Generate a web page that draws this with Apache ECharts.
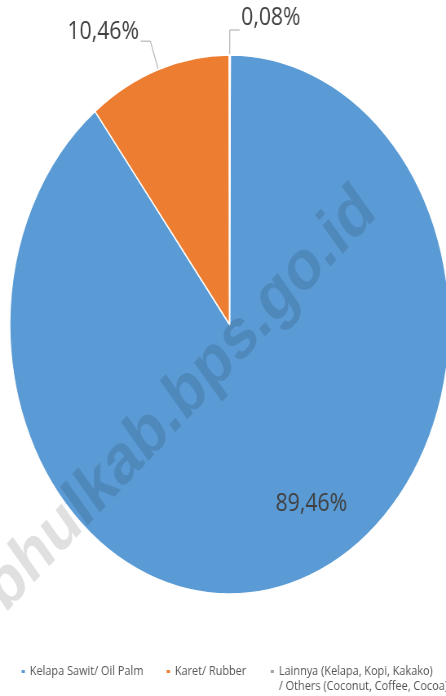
<!DOCTYPE html>
<html><head><meta charset="utf-8">
<script src="https://cdn.jsdelivr.net/npm/echarts/dist/echarts.min.js"></script>
<style>
html,body{margin:0;padding:0;overflow:hidden;background:#fff;width:446px;height:696px}
#wrap{width:446px;height:696px;overflow:hidden;position:relative}
#main{width:547px;height:696px;transform:scaleX(0.8154);transform-origin:0 0;position:absolute;left:0;top:0}
</style></head>
<body><div id="wrap"><div id="main"></div></div>
<script>
// Data
const categories = ['Kelapa Sawit/ Oil Palm', 'Karet/ Rubber', 'Lainnya (Kelapa, Kopi, Kakako) / Others (Coconut, Coffee, Cocoa)'];
const shares = [89.46, 10.46, 0.08];
const colors = ['#5B9BD5', '#ED7D31', '#A5A5A5'];
const watermarkText = 'bhulkab.bps.go.id';

const fmt = v => v.toFixed(2).replace('.', ',');

// spacer heights lift outside labels above the end of their leader line
const spacerHeights = [0, 19, 25];
const lineLengths = [20, 30, 25];
// legend block placement (unscaled px)
const legendLefts = [24.5, 202.4, 329.9];
const legendTops = [664, 664, 649];

const legendBase = {
  padding: 0,
  itemWidth: 6,
  itemHeight: 5,
  icon: 'rect',
  textStyle: { fontFamily: 'Open Sans', fontSize: 13.4, color: '#555555', lineHeight: 15 },
  formatter: name => name.indexOf(' / ') >= 0 ? ' \n' + name.replace(' / ', '\n/ ') : name
};

const chart = echarts.init(document.getElementById('main'), null, { renderer: 'canvas' });
chart.setOption({
  animation: false,
  backgroundColor: '#ffffff',
  color: colors,
  legend: categories.map((c, i) => Object.assign({}, legendBase, {
    left: legendLefts[i],
    top: legendTops[i],
    data: [c]
  })),
  graphic: [{
    type: 'text',
    silent: true,
    z: 100,
    x: 222,
    y: 400,
    rotation: 41 * Math.PI / 180,
    style: {
      text: watermarkText,
      font: 'bold 71px "Liberation Sans"',
      fill: 'rgba(0,0,0,0.12)',
      align: 'center',
      verticalAlign: 'middle'
    }
  }],
  series: [{
    type: 'pie',
    center: [281.5, 324.5],
    radius: 269.5,
    startAngle: 89.8,
    clockwise: true,
    avoidLabelOverlap: false,
    itemStyle: { borderColor: '#ffffff', borderWidth: 1.5 },
    label: {
      show: true,
      position: 'outside',
      formatter: p => p.dataIndex === 0 ? '{v|' + fmt(p.value) + '%}' : '{v|' + fmt(p.value) + '%}\n{s' + p.dataIndex + '| }',
      fontFamily: 'Open Sans',
      fontSize: 26,
      color: '#404040',
      distanceToLabelLine: 2,
      rich: {
        v: { fontFamily: 'Open Sans', fontSize: 26, color: '#404040' },
        s1: { fontSize: 8, height: spacerHeights[1], lineHeight: spacerHeights[1] },
        s2: { fontSize: 8, height: spacerHeights[2], lineHeight: spacerHeights[2] }
      }
    },
    labelLine: { show: true, length: 25, length2: 12, lineStyle: { color: '#A6A6A6', width: 1 } },
    labelLayout: function (params) {
      if (params.dataIndex === 0) return { dx: 56, dy: 49 };
    },
    data: categories.map((c, i) => ({
      name: c,
      value: shares[i],
      label: i === 0 ? { position: 'inside' } : {},
      labelLine: { length: lineLengths[i] }
    }))
  }]
});
</script>
</body></html>
